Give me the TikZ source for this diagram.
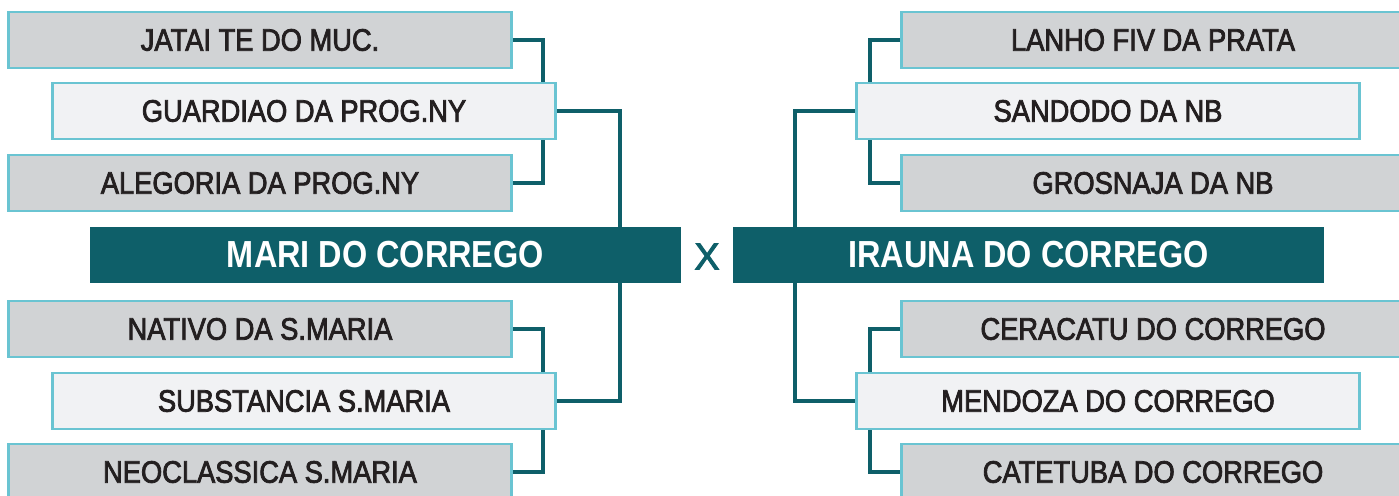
\documentclass[tikz,border=0pt]{standalone}
\usepackage{fontspec}
\setmainfont{Liberation Sans}[FakeStretch=0.88,FakeBold=2.5]
\newfontfamily\headfont{Liberation Sans}[FakeStretch=0.86]
\newfontfamily\xfont{Liberation Sans}[FakeBold=2.5]
\definecolor{teal1}{HTML}{0E5F69}
\definecolor{cyanb}{HTML}{6AC4D2}
\definecolor{greyf}{HTML}{D1D3D5}
\definecolor{lightf}{HTML}{F1F2F4}
\definecolor{txt}{HTML}{231F20}
\pgfdeclarelayer{background}
\pgfsetlayers{background,main}
\begin{document}
\begin{tikzpicture}[x=1pt,y=-1pt,
  entry/.style={draw=cyanb, line width=2.8pt, minimum width=503pt, minimum height=56pt, inner sep=0pt, text=txt, font=\fontsize{31}{32}\selectfont},
  greybox/.style={entry, fill=greyf},
  lightbox/.style={entry, fill=lightf},
  headbox/.style={fill=teal1, minimum width=591pt, minimum height=56pt, inner sep=0pt, text=white, font=\headfont\bfseries\fontsize{37.7}{40}\selectfont},
  conn/.style={draw=teal1, line width=4.8pt, line join=miter}]
\useasboundingbox (0,0) rectangle (1399,495);
\clip (0,0) rectangle (1399,495);
% left
\node[greybox] (jatai) at (260,40) {JATAI TE DO MUC.};
\node[lightbox] (guard) at (304,111) {GUARDIAO DA PROG.NY};
\node[greybox] (aleg) at (260,183) {ALEGORIA DA PROG.NY};
\node[headbox] (mari) at (385.5,255) {MARI DO CORREGO};
\node[greybox] (nativo) at (260,329) {NATIVO DA S.MARIA};
\node[lightbox] (subst) at (304,401) {SUBSTANCIA S.MARIA};
\node[greybox] (neo) at (260,472) {NEOCLASSICA S.MARIA};
\node[text=teal1, font=\xfont\fontsize{37.7}{40}\selectfont, inner sep=0pt] (xmark) at (707,256.5) {X};
% right
\node[greybox] (lanho) at (1153,40) {LANHO FIV DA PRATA};
\node[lightbox] (sand) at (1108,111) {SANDODO DA NB};
\node[greybox] (gros) at (1153,183) {GROSNAJA DA NB};
\node[headbox] (irauna) at (1028.5,255) {IRAUNA DO CORREGO};
\node[greybox] (cera) at (1153,329) {CERACATU DO CORREGO};
\node[lightbox] (mend) at (1108,401) {MENDOZA DO CORREGO};
\node[greybox] (cate) at (1153,472) {CATETUBA DO CORREGO};
\coordinate (lx1) at (543,0);
\coordinate (lx2) at (620,0);
\coordinate (rx1) at (870,0);
\coordinate (rx2) at (795,0);
\begin{pgfonlayer}{background}
\draw[conn] (jatai.east) -- (jatai.east -| lx1) -- (aleg.east -| lx1) -- (aleg.east);
\draw[conn] (guard.east) -- (guard.east -| lx2) -- (mari.north -| lx2);
\draw[conn] (subst.east) -- (subst.east -| lx2) -- (mari.south -| lx2);
\draw[conn] (nativo.east) -- (nativo.east -| lx1) -- (neo.east -| lx1) -- (neo.east);
\draw[conn] (lanho.west) -- (lanho.west -| rx1) -- (gros.west -| rx1) -- (gros.west);
\draw[conn] (sand.west) -- (sand.west -| rx2) -- (irauna.north -| rx2);
\draw[conn] (mend.west) -- (mend.west -| rx2) -- (irauna.south -| rx2);
\draw[conn] (cera.west) -- (cera.west -| rx1) -- (cate.west -| rx1) -- (cate.west);
\end{pgfonlayer}
\end{tikzpicture}
\end{document}
